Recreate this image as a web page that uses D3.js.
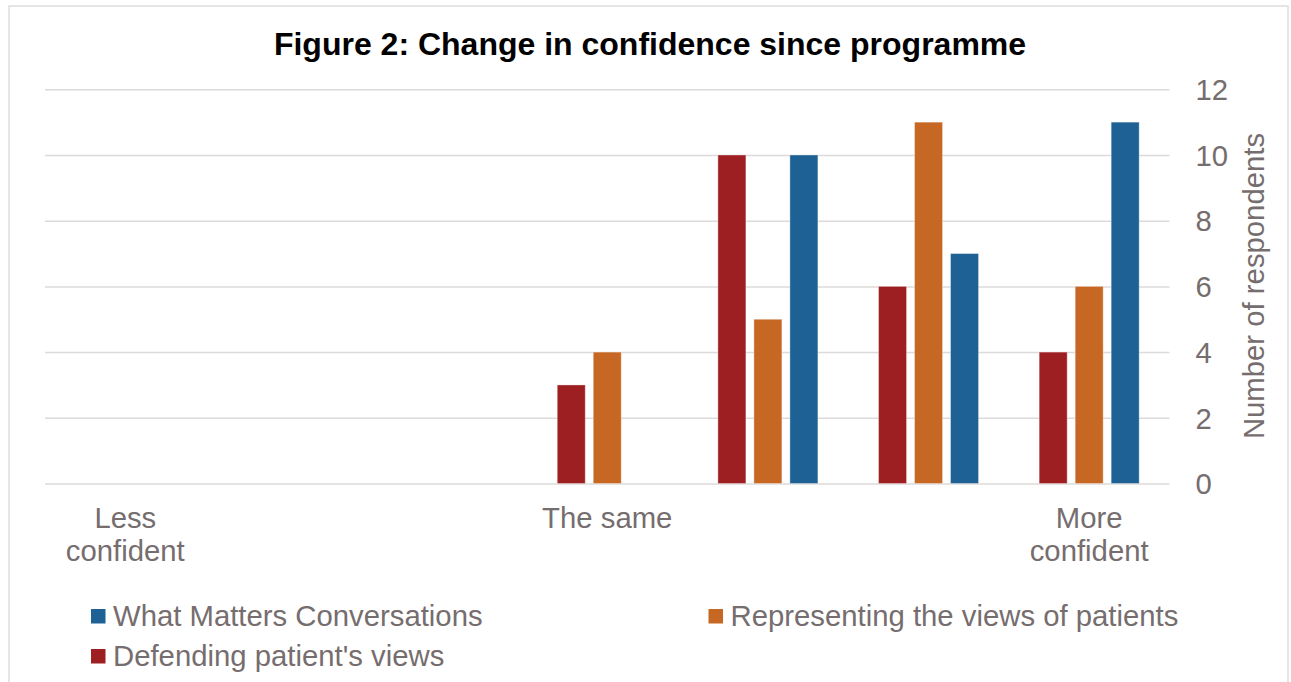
<!DOCTYPE html>
<html>
<head>
<meta charset="utf-8">
<script src="https://cdn.jsdelivr.net/npm/d3@7/dist/d3.min.js"></script>
<style>
  html, body { margin: 0; padding: 0; background: #fff; }
  svg { display: block; font-family: "Liberation Sans", Arial, sans-serif; }
</style>
</head>
<body>
<svg id="chart" width="1291" height="682"></svg>
<script>
// Confidence scale positions (1 = less confident ... 7 = more confident)
const categories = [1, 2, 3, 4, 5, 6, 7];
const categoryLabels = { 1: ["Less", "confident"], 4: ["The same"], 7: ["More", "confident"] };

const seriesNames = ["Defending patient's views", "Representing the views of patients", "What Matters Conversations"];
const defendingViews   = [0, 0, 0, 3, 10, 6, 4];
const representingViews = [0, 0, 0, 4, 5, 11, 6];
const whatMatters      = [0, 0, 0, 0, 10, 7, 11];
const yTicks = [0, 2, 4, 6, 8, 10, 12];

const colors = {
  "Defending patient's views": "#9e1f21",
  "Representing the views of patients": "#c66824",
  "What Matters Conversations": "#1e6194"
};
const seriesValues = {
  "Defending patient's views": defendingViews,
  "Representing the views of patients": representingViews,
  "What Matters Conversations": whatMatters
};

const textColor = "#766d6e";
const gridColor = "#dedada";
const svg = d3.select("#chart");

// outer frame
svg.append("rect")
  .attr("x", 9).attr("y", 6).attr("width", 1279).attr("height", 700)
  .attr("fill", "none").attr("stroke", "#e0dcdc").attr("stroke-width", 1.5);

const plot = { left: 45, right: 1169.5, top: 89.3, bottom: 483.5 };

const x = d3.scaleBand().domain(categories).range([plot.left, plot.right]).padding(0);
const y = d3.scaleLinear().domain([0, 12]).range([plot.bottom, plot.top]);

// bars within a category: width 28 on a 36 step, centred in the band
const barStep = x.bandwidth() * 36 / 160.64;
const barWidth = x.bandwidth() * 28 / 160.64;
const xSub = d3.scaleBand().domain(seriesNames)
  .range([x.bandwidth() / 2 - barStep * 1.5, x.bandwidth() / 2 + barStep * 1.5])
  .paddingInner((barStep - barWidth) / barStep).paddingOuter((barStep - barWidth) / barStep / 2);

// title
svg.append("text")
  .attr("x", 650).attr("y", 55)
  .attr("text-anchor", "middle")
  .attr("font-size", 32).attr("font-weight", "bold").attr("fill", "#000")
  .text("Figure 2: Change in confidence since programme");

// gridlines
const yAxis = d3.axisRight(y).tickValues(yTicks).tickSize(-(plot.right - plot.left)).tickPadding(26);
const gAxis = svg.append("g").attr("transform", `translate(${plot.right},0)`).call(yAxis);
gAxis.select(".domain").remove();
gAxis.selectAll(".tick line").attr("stroke", gridColor).attr("stroke-width", 1.5);
gAxis.selectAll(".tick text")
  .attr("fill", textColor).attr("font-size", 29.3)
  .attr("font-family", "Liberation Sans, Arial, sans-serif")
  .attr("dy", "0.35em");

// bars
const groups = svg.append("g").selectAll("g")
  .data(categories)
  .join("g")
  .attr("transform", d => `translate(${x(d)},0)`);

groups.selectAll("rect")
  .data((d, i) => seriesNames.map(s => ({ s, v: seriesValues[s][i] })).filter(e => e.v > 0))
  .join("rect")
  .attr("x", e => xSub(e.s))
  .attr("width", xSub.bandwidth())
  .attr("y", e => y(e.v))
  .attr("height", e => y(0) - y(e.v))
  .attr("fill", e => colors[e.s])
  .attr("stroke", "#ffffff").attr("stroke-opacity", 0.35).attr("stroke-width", 1);

// category labels
categories.forEach(c => {
  const lines = categoryLabels[c];
  if (!lines) return;
  const t = svg.append("text")
    .attr("text-anchor", "middle")
    .attr("font-size", 29.3).attr("fill", textColor);
  lines.forEach((ln, i) => {
    t.append("tspan").attr("x", x(c) + x.bandwidth() / 2).attr("y", 528 + i * 32.5).text(ln);
  });
});

// y-axis title
svg.append("text")
  .attr("transform", "translate(1264,286) rotate(-90)")
  .attr("text-anchor", "middle")
  .attr("font-size", 29.3).attr("fill", textColor)
  .text("Number of respondents");

// legend
const legendItems = [
  { name: "What Matters Conversations", x: 91, y: 609 },
  { name: "Representing the views of patients", x: 708.5, y: 609 },
  { name: "Defending patient's views", x: 91, y: 649 }
];
const lg = svg.append("g").selectAll("g").data(legendItems).join("g")
  .attr("transform", d => `translate(${d.x},${d.y})`);
lg.append("rect").attr("width", 14.5).attr("height", 14.5).attr("fill", d => colors[d.name]);
lg.append("text").attr("x", 22).attr("y", 16.5)
  .attr("font-size", 29.3).attr("fill", textColor)
  .text(d => d.name);
</script>
</body>
</html>
